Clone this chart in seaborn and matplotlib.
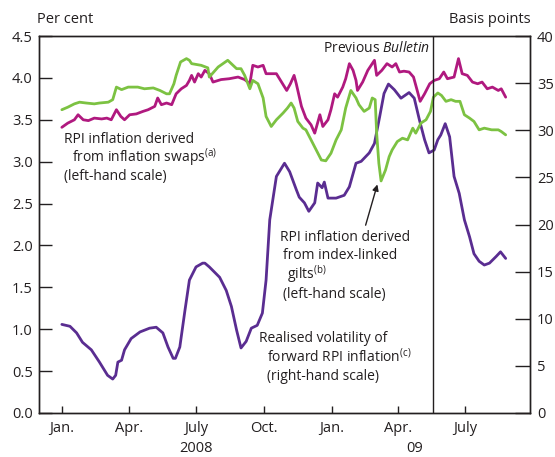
import numpy as np
import pandas as pd
import matplotlib
matplotlib.use("Agg")
import matplotlib.pyplot as plt
import matplotlib.dates as mdates
import seaborn as sns

# ---------------- data ----------------
swap_dates = ["2008-01-01","2008-01-09","2008-01-18","2008-01-23","2008-01-30","2008-02-06","2008-02-14",
    "2008-02-24","2008-03-02","2008-03-08","2008-03-15","2008-03-21","2008-03-26","2008-04-02","2008-04-11",
    "2008-04-20","2008-04-27","2008-05-06","2008-05-10","2008-05-15","2008-05-22","2008-05-29","2008-06-04",
    "2008-06-11","2008-06-18","2008-06-22","2008-06-25","2008-06-29","2008-07-04","2008-07-08","2008-07-13",
    "2008-07-19","2008-07-24","2008-08-04","2008-08-15","2008-08-27","2008-09-05","2008-09-12","2008-09-16",
    "2008-09-23","2008-09-30","2008-10-04","2008-10-11","2008-10-18","2008-10-25","2008-11-01","2008-11-06",
    "2008-11-11","2008-11-14","2008-11-21","2008-11-27","2008-12-04","2008-12-09","2008-12-16","2008-12-20",
    "2008-12-27","2008-12-31","2009-01-05","2009-01-09","2009-01-16","2009-01-20","2009-01-25","2009-01-30",
    "2009-02-03","2009-02-05","2009-02-12","2009-02-19","2009-02-28","2009-03-03","2009-03-10","2009-03-17",
    "2009-03-24","2009-03-29","2009-04-03","2009-04-09","2009-04-16","2009-04-22","2009-04-27","2009-05-01",
    "2009-05-07","2009-05-14","2009-05-20","2009-05-27","2009-06-02","2009-06-07","2009-06-16","2009-06-22",
    "2009-06-27","2009-07-04","2009-07-11","2009-07-18","2009-07-24","2009-07-31","2009-08-07","2009-08-15",
    "2009-08-19","2009-08-25"]
swap_values = [3.41,3.46,3.50,3.56,3.50,3.49,3.52,3.51,3.52,3.50,3.62,3.54,3.50,3.56,3.57,3.60,3.62,3.66,3.76,
    3.68,3.70,3.68,3.81,3.87,3.91,3.97,4.03,3.95,4.05,4.01,4.09,4.05,3.95,3.98,3.99,4.01,3.98,3.93,4.15,4.13,
    4.15,4.05,4.05,4.05,3.95,3.85,3.93,4.03,3.93,3.66,3.52,3.44,3.34,3.56,3.42,3.50,3.62,3.81,3.77,3.89,3.99,
    4.17,4.09,3.97,3.85,3.95,4.09,4.21,4.03,4.09,4.17,4.13,4.17,4.07,4.08,4.07,4.01,3.85,3.72,3.81,3.93,3.97,
    3.99,4.07,3.99,4.01,4.23,4.05,4.03,3.95,3.93,3.95,3.87,3.89,3.85,3.87,3.77]

gilt_dates = ["2008-01-01","2008-01-09","2008-01-18","2008-01-25","2008-02-03","2008-02-14","2008-02-21",
    "2008-03-04","2008-03-10","2008-03-15","2008-03-22","2008-03-31","2008-04-13","2008-04-22","2008-05-04",
    "2008-05-13","2008-05-22","2008-05-26","2008-06-01","2008-06-04","2008-06-10","2008-06-18","2008-06-22",
    "2008-06-25","2008-07-08","2008-07-17","2008-07-19","2008-07-31","2008-08-13","2008-08-25","2008-08-31",
    "2008-09-05","2008-09-12","2008-09-16","2008-09-23","2008-09-30","2008-10-04","2008-10-11","2008-10-18",
    "2008-10-27","2008-11-02","2008-11-07","2008-11-11","2008-11-16","2008-11-23","2008-11-27","2008-12-04",
    "2008-12-11","2008-12-18","2008-12-24","2008-12-31","2009-01-07","2009-01-14","2009-01-20","2009-01-27",
    "2009-02-03","2009-02-07","2009-02-14","2009-02-21","2009-02-25","2009-03-01","2009-03-03","2009-03-06",
    "2009-03-09","2009-03-15","2009-03-20","2009-03-24","2009-03-31","2009-04-07","2009-04-14","2009-04-21",
    "2009-04-25","2009-05-02","2009-05-09","2009-05-15","2009-05-19","2009-05-25","2009-05-30","2009-06-05",
    "2009-06-12","2009-06-18","2009-06-24","2009-06-30","2009-07-07","2009-07-13","2009-07-20","2009-07-27",
    "2009-08-06","2009-08-15","2009-08-19","2009-08-25"]
gilt_values = [3.62,3.65,3.69,3.71,3.70,3.69,3.70,3.71,3.74,3.89,3.86,3.89,3.89,3.87,3.88,3.85,3.81,3.81,3.93,
    4.03,4.19,4.23,4.21,4.17,4.15,4.12,4.01,4.13,4.21,4.11,4.11,4.03,3.87,3.97,3.93,3.76,3.54,3.42,3.50,3.58,
    3.64,3.70,3.64,3.48,3.40,3.38,3.26,3.14,3.02,3.01,3.10,3.26,3.38,3.64,3.85,3.76,3.68,3.60,3.64,3.76,3.74,
    3.34,2.98,2.77,2.90,3.06,3.14,3.24,3.28,3.26,3.40,3.34,3.46,3.50,3.60,3.77,3.82,3.79,3.72,3.74,3.72,3.72,
    3.56,3.52,3.48,3.38,3.40,3.38,3.38,3.36,3.32]

vol_dates = ["2008-01-01","2008-01-12","2008-01-21","2008-01-29","2008-02-10","2008-02-21","2008-03-03",
    "2008-03-10","2008-03-14","2008-03-17","2008-03-22","2008-03-26","2008-04-04","2008-04-16","2008-04-29",
    "2008-05-08","2008-05-17","2008-05-24","2008-05-31","2008-06-03","2008-06-09","2008-06-16","2008-06-22",
    "2008-07-01","2008-07-10","2008-07-13","2008-07-19","2008-08-02","2008-08-11","2008-08-18","2008-08-25",
    "2008-08-31","2008-09-07","2008-09-14","2008-09-22","2008-09-29","2008-10-04","2008-10-09","2008-10-18",
    "2008-10-29","2008-11-05","2008-11-14","2008-11-18","2008-11-25","2008-12-01","2008-12-09","2008-12-13",
    "2008-12-19","2008-12-22","2008-12-27","2009-01-07","2009-01-18","2009-01-25","2009-02-03","2009-02-10",
    "2009-02-21","2009-02-28","2009-03-07","2009-03-13","2009-03-19","2009-03-27","2009-04-05","2009-04-16",
    "2009-04-23","2009-04-30","2009-05-07","2009-05-13","2009-05-20","2009-05-25","2009-05-29","2009-06-04",
    "2009-06-10","2009-06-16","2009-06-23","2009-06-30","2009-07-07","2009-07-13","2009-07-20","2009-07-27",
    "2009-08-03","2009-08-12","2009-08-18","2009-08-25"]
vol_values = [9.4,9.2,8.5,7.5,6.7,5.4,4.0,3.6,4.0,5.4,5.6,6.7,7.9,8.6,9.0,9.1,8.5,7.0,5.8,5.8,7.0,10.9,14.1,
    15.5,15.9,15.9,15.5,14.4,13.0,11.3,8.8,6.9,7.6,9.0,9.3,10.6,14.1,20.5,25.1,26.5,25.6,23.7,22.9,22.3,21.4,
    22.3,24.4,23.9,24.5,22.8,22.8,23.1,24.0,26.5,26.7,27.6,28.6,31.4,33.9,34.9,34.3,33.4,34.0,33.4,31.1,29.0,
    27.6,27.9,29.0,29.5,30.7,29.3,25.1,23.3,20.5,18.7,16.9,16.1,15.7,15.9,16.6,17.1,16.4]

left_ticks = [0.0, 0.5, 1.0, 1.5, 2.0, 2.5, 3.0, 3.5, 4.0, 4.5]
right_ticks = [0, 5, 10, 15, 20, 25, 30, 35, 40]
quarter_dates = ["2008-01-01","2008-04-01","2008-07-01","2008-10-01","2009-01-01","2009-04-01","2009-07-01"]
quarter_labels = ["Jan.","Apr.","July","Oct.","Jan.","Apr.","July"]
year_dates = ["2008-01-01","2009-01-01"]
year_labels = [("2008", "2008-07-01"), ("09", "2009-04-24")]
bulletin_date = "2009-05-19"

# ---------------- style ----------------
sns.set_style("ticks")
plt.rcParams['font.family'] = ['Open Sans', 'DejaVu Sans']
plt.rcParams['mathtext.fontset'] = 'custom'
plt.rcParams['mathtext.rm'] = 'Open Sans'
plt.rcParams['mathtext.it'] = 'Open Sans:italic'
TXT = '#231f20'
MAG = '#b0197f'
GRN = '#7cc242'
PUR = '#5a2d91'

fig = plt.figure(figsize=(5.55, 4.57), dpi=100)
ax = fig.add_axes([39/555, 1-413/457, (530-39)/555, (413-36)/457])
ax2 = ax.twinx()

df_swap = pd.DataFrame({"date": pd.to_datetime(swap_dates), "v": swap_values})
df_gilt = pd.DataFrame({"date": pd.to_datetime(gilt_dates), "v": gilt_values})
df_vol = pd.DataFrame({"date": pd.to_datetime(vol_dates), "v": vol_values})

sns.lineplot(data=df_vol, x="date", y="v", ax=ax2, color=PUR, lw=2.0)
sns.lineplot(data=df_swap, x="date", y="v", ax=ax, color=MAG, lw=2.0)
sns.lineplot(data=df_gilt, x="date", y="v", ax=ax, color=GRN, lw=2.0)

ax.set_zorder(ax2.get_zorder() + 1)
ax.patch.set_visible(False)

ax.set_xlim(pd.Timestamp("2007-12-01"), pd.Timestamp("2009-09-27"))
ax.set_ylim(0, 4.5)
ax2.set_ylim(0, 40)
ax.set_xlabel("")
ax.set_ylabel("")
ax2.set_ylabel("")

ax.set_yticks(left_ticks)
ax.set_yticklabels([f"{t:.1f}" for t in left_ticks])
ax2.set_yticks(right_ticks)
ax2.set_yticklabels([str(t) for t in right_ticks])

ax.set_xticks(pd.to_datetime(quarter_dates))
ax.set_xticklabels(quarter_labels)
ax.set_xticks(pd.to_datetime(year_dates), minor=True)

for a in (ax, ax2):
    for s in a.spines.values():
        s.set_visible(True)
        s.set_color(TXT)
        s.set_linewidth(1.0)

ax.tick_params(axis='y', direction='in', length=9.5, width=1, pad=4.5,
               labelsize=10.5, colors=TXT, left=True, right=False)
ax2.tick_params(axis='y', direction='in', length=10.5, width=1, pad=5,
                labelsize=10.5, colors=TXT)
ax.tick_params(axis='x', which='major', direction='in', length=5, width=1, pad=6,
               labelsize=10.5, colors=TXT)
ax.tick_params(axis='x', which='minor', direction='in', length=11, width=1)

xt = ax.get_xaxis_transform()
for lab, d in year_labels:
    ax.text(pd.Timestamp(d), -0.095, lab, transform=xt, ha='center', va='center',
            fontsize=10.5, color=TXT)

ax.axvline(pd.Timestamp(bulletin_date), color=TXT, lw=1.0)
ax.text(pd.Timestamp("2009-05-14"), 4.31, r"Previous $\mathit{Bulletin}$", ha='right',
        va='baseline', fontsize=10, color=TXT)

fig.text(37/555, 1-23.3/457, "Per cent", ha='left', va='baseline', fontsize=10.5, color=TXT)
fig.text(531/555, 1-23.3/457, "Basis points", ha='right', va='baseline', fontsize=10.5, color=TXT)

fs = 10
def put(d, y, s):
    return ax.text(pd.Timestamp(d), y, s, ha='left', va='baseline', fontsize=fs, color=TXT)

put("2008-01-04", 3.22, "RPI inflation derived")
put("2008-01-15", 3.00, r"from inflation swaps$^{\mathrm{(a)}}$")
put("2008-01-04", 2.78, "(left-hand scale)")

put("2008-10-23", 2.056, "RPI inflation derived")
put("2008-10-27", 1.834, "from index-linked")
put("2008-11-01", 1.60, r"gilts$^{\mathrm{(b)}}$")
put("2008-10-27", 1.376, "(left-hand scale)")

put("2008-09-24", 0.851, "Realised volatility of")
put("2008-10-05", 0.612, r"forward RPI inflation$^{\mathrm{(c)}}$")
put("2008-10-05", 0.394, "(right-hand scale)")

ax.annotate("", xy=(pd.Timestamp("2009-03-05"), 2.76), xytext=(pd.Timestamp("2009-02-15"), 2.21),
            arrowprops=dict(arrowstyle='-|>', color=TXT, lw=1.0, mutation_scale=9))

fig.savefig("out.png", dpi=100)
